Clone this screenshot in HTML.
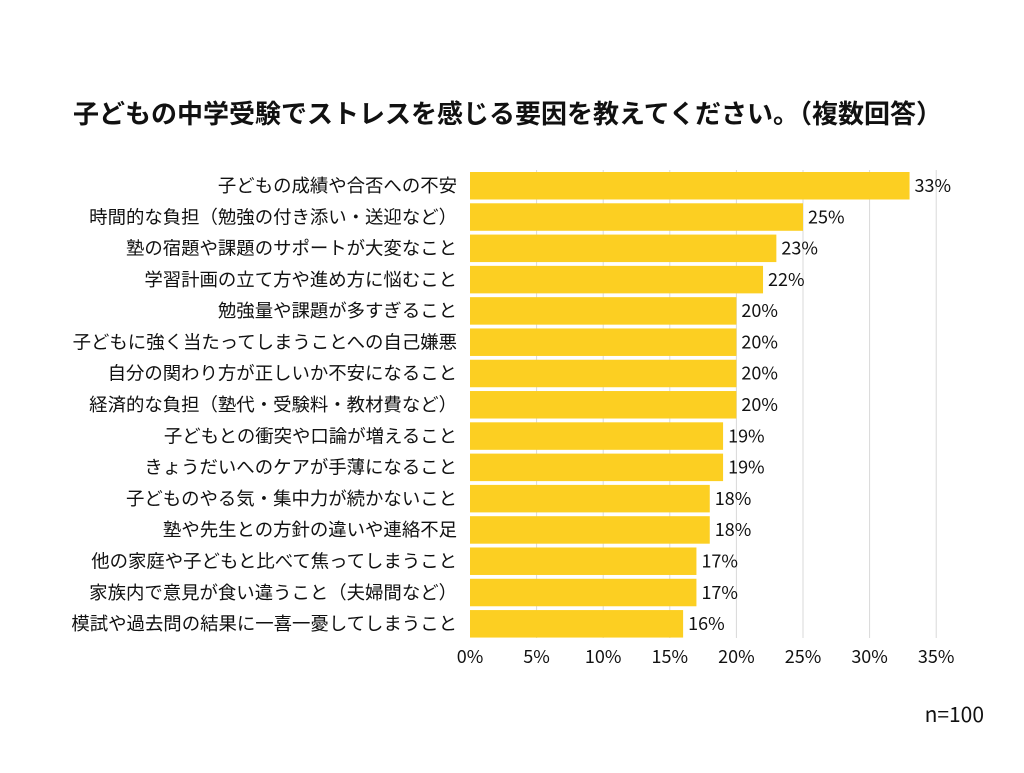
<!DOCTYPE html>
<html><head><meta charset="utf-8"><style>
body{margin:0;background:#fff;}
svg text{font-family:"Noto Sans CJK JP",sans-serif;fill:#111;}
</style></head><body>
<svg width="1024" height="768" xmlns="http://www.w3.org/2000/svg">
<rect width="1024" height="768" fill="#fff"/>
<text x="507.5" y="123" font-size="26" font-weight="bold" text-anchor="middle">子どもの中学受験でストレスを感じる要因を教えてください。（複数回答）</text>
<g stroke="#d9d9d9" stroke-width="1">
<line x1="536.6" y1="170" x2="536.6" y2="638"/>
<line x1="603.2" y1="170" x2="603.2" y2="638"/>
<line x1="669.8" y1="170" x2="669.8" y2="638"/>
<line x1="736.4" y1="170" x2="736.4" y2="638"/>
<line x1="803" y1="170" x2="803" y2="638"/>
<line x1="869.6" y1="170" x2="869.6" y2="638"/>
<line x1="936.2" y1="170" x2="936.2" y2="638"/>
</g>
<g id="bars" fill="#FCCF22"></g>
<g id="labels" font-size="18.4" text-anchor="end"></g>
<g id="vals" font-size="18"></g>
<g font-size="18" text-anchor="middle">
<text x="470" y="663">0%</text><text x="536.6" y="663">5%</text><text x="603.2" y="663">10%</text><text x="669.8" y="663">15%</text><text x="736.4" y="663">20%</text><text x="803" y="663">25%</text><text x="869.6" y="663">30%</text><text x="936.2" y="663">35%</text>
</g>
<text x="984" y="722" font-size="21" text-anchor="end">n=100</text>
</svg>
<script>
var d=[["子どもの成績や合否への不安",33],["時間的な負担（勉強の付き添い・送迎など）",25],["塾の宿題や課題のサポートが大変なこと",23],["学習計画の立て方や進め方に悩むこと",22],["勉強量や課題が多すぎること",20],["子どもに強く当たってしまうことへの自己嫌悪",20],["自分の関わり方が正しいか不安になること",20],["経済的な負担（塾代・受験料・教材費など）",20],["子どもとの衝突や口論が増えること",19],["きょうだいへのケアが手薄になること",19],["子どものやる気・集中力が続かないこと",18],["塾や先生との方針の違いや連絡不足",18],["他の家庭や子どもと比べて焦ってしまうこと",17],["家族内で意見が食い違うこと（夫婦間など）",17],["模試や過去問の結果に一喜一憂してしまうこと",16]];
var ns="http://www.w3.org/2000/svg",b=document.getElementById("bars"),l=document.getElementById("labels"),v=document.getElementById("vals");
d.forEach(function(r,i){var y=172+i*31.29,w=r[1]*13.32;
var rc=document.createElementNS(ns,"rect");rc.setAttribute("x",470);rc.setAttribute("y",y);rc.setAttribute("width",w);rc.setAttribute("height",27.5);b.appendChild(rc);
var t=document.createElementNS(ns,"text");t.setAttribute("x",457);t.setAttribute("y",y+20);t.textContent=r[0];l.appendChild(t);
var u=document.createElementNS(ns,"text");u.setAttribute("x",470+w+5);u.setAttribute("y",y+20);u.textContent=r[1]+"%";v.appendChild(u);});
</script>
</body></html>
